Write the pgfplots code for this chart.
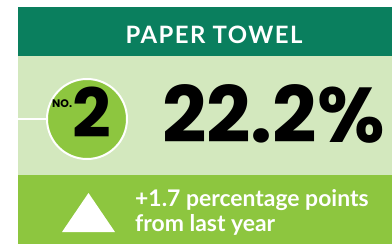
\documentclass[border=0pt]{standalone}
\usepackage{pgfplots}
\pgfplotsset{compat=1.18}
\usepackage{fontspec}
\setmainfont{Lato}
\newfontfamily\pop{Poppins}
\newfontfamily\lsp{Lato}[LetterSpace=6]
\definecolor{dkgreen}{HTML}{0A7F5E}
\definecolor{ltgreen}{HTML}{D3E8BE}
\definecolor{brgreen}{HTML}{8DC63F}
\begin{document}
\begin{tikzpicture}
\begin{axis}[hide axis, scale only axis, width=392bp, height=244bp,
  xmin=0, xmax=392, ymin=0, ymax=244, y dir=reverse, clip=false]
% background
\addplot[draw=none, fill=white] coordinates {(0,0) (392,0) (392,244) (0,244)} --cycle;
% bands
\addplot[draw=none, fill=dkgreen] coordinates {(18,7) (392,7) (392,56) (18,56)} --cycle;
\addplot[draw=none, fill=ltgreen] coordinates {(18,56) (392,56) (392,175) (18,175)} --cycle;
\addplot[draw=none, fill=brgreen] coordinates {(18,175) (392,175) (392,244) (18,244)} --cycle;
% connector line
\addplot[white, line width=1.5bp] coordinates {(18,119) (48,119)};
% circle
\draw[white, line width=2bp, fill=brgreen] (axis cs:87,119) circle[radius=40bp];
% texts
\node[anchor=base, inner sep=0pt, text=white, font=\lsp\fontsize{24}{26}\selectfont\bfseries] at (axis cs:214,43) {PAPER TOWEL};
\node[anchor=base west, inner sep=0pt, font=\pop\fontsize{11}{12}\selectfont\bfseries] at (axis cs:52,107) {NO.};
\node[anchor=base west, inner sep=0pt, font=\pop\fontsize{68}{70}\selectfont\bfseries] at (axis cs:72,137) {2};
\node[anchor=base west, inner sep=0pt, font=\pop\fontsize{78}{80}\selectfont\bfseries] at (axis cs:162,142) {22.2\%};
% triangle
\addplot[draw=none, fill=white] coordinates {(62,232) (115,232) (88.5,193)} --cycle;
\node[anchor=base west, inner sep=0pt, text=white, font=\fontsize{23}{26}\selectfont\bfseries] at (axis cs:135,206) {+1.7 percentage points};
\node[anchor=base west, inner sep=0pt, text=white, font=\fontsize{23}{26}\selectfont\bfseries] at (axis cs:135,231) {from last year};
\end{axis}
\end{tikzpicture}
\end{document}
